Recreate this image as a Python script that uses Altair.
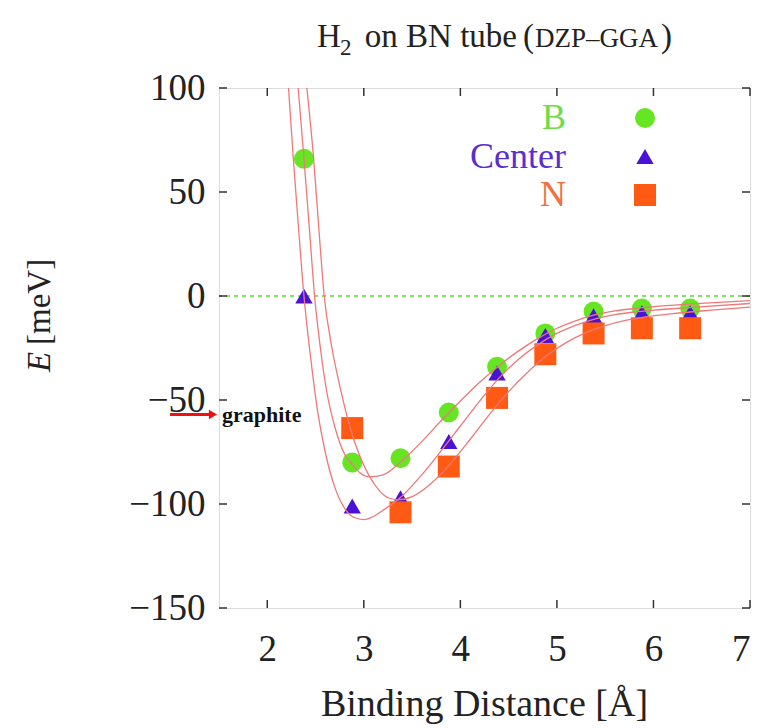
import altair as alt
import pandas as pd

# ---------------- data ----------------
dist = [2.38, 2.88, 3.38, 3.88, 4.38, 4.88, 5.38, 5.88, 6.38]
E_B = [66, -80, -78, -56, -34, -18, -7.5, -6, -6]
E_C = [0, -101, -97, -70, -37, -19, -9.5, -8, -8]
dist_N = [2.88, 3.38, 3.88, 4.38, 4.88, 5.38, 5.88, 6.38]
E_N = [-63.5, -104, -82, -49, -28, -18, -15.5, -15.5]

# fitted curves, points
fitC_x = [2.22, 2.27, 2.32, 2.38, 2.45, 2.52, 2.60, 2.70, 2.80, 2.90, 3.00, 3.10, 3.20, 3.40, 3.60, 3.80, 4.00, 4.20, 4.40, 4.60, 4.80, 5.00, 5.20, 5.40, 5.60, 5.80, 6.00, 6.40, 7.00]
fitC_E = [100, 66, 35, 0, -30, -55, -75, -92, -102, -106.5, -107.5, -106, -103, -96, -86, -74.5, -62.5, -50.5, -39.5, -30.5, -23.5, -18, -14, -11, -9, -7.7, -6.8, -5.5, -3.6]
fitB_x = [2.32, 2.38, 2.44, 2.49, 2.55, 2.62, 2.70, 2.80, 2.88, 2.96, 3.06, 3.20, 3.40, 3.60, 3.80, 4.00, 4.20, 4.40, 4.60, 4.80, 5.00, 5.20, 5.40, 5.60, 5.80, 6.00, 6.40, 7.00]
fitB_E = [100, 66, 30, 0, -25, -47, -63, -76, -81, -85, -87, -86, -79, -70, -60, -50.5, -41.5, -33.5, -26.5, -20.5, -15.5, -11.8, -9, -7.2, -6, -5.1, -3.8, -2.2]
fitN_x = [2.41, 2.48, 2.53, 2.59, 2.67, 2.76, 2.85, 2.95, 3.05, 3.15, 3.25, 3.36, 3.50, 3.70, 3.90, 4.10, 4.30, 4.50, 4.70, 4.90, 5.10, 5.30, 5.50, 5.70, 5.90, 6.20, 6.60, 7.00]
fitN_E = [100, 66, 35, 0, -25, -45, -62, -76, -86, -93, -97, -98, -96.5, -90, -80.5, -69, -57, -46, -36.5, -28.5, -22.3, -17.6, -14.2, -11.8, -10.2, -8.5, -6.8, -5.3]

series_names = ["B", "Center", "N"]
series_colors = ["#66e622", "#4a12d8", "#ff5a14"]
label_colors = ["#6fdc4a", "#5a2fd0", "#f07040"]
series_shapes = ["circle", "triangle-up", "square"]
series_sizes = [400, 300, 484]

x_ticks = [2, 3, 4, 5, 6, 7]
y_ticks = [-150, -100, -50, 0, 50, 100]
zero_line = [0]
graphite_E = [-57]

W, H = 531, 520
SERIF = "Liberation Serif, Times New Roman, serif"

xs = alt.Scale(domain=[1.5, 7], nice=False, zero=False)
ys = alt.Scale(domain=[-150, 100], nice=False, zero=False)

# ---------------- tables ----------------
pts = pd.DataFrame({
    "d": dist + dist + dist_N,
    "E": E_B + E_C + E_N,
    "s": ["B"] * len(dist) + ["Center"] * len(dist) + ["N"] * len(dist_N),
})
fits = pd.DataFrame({
    "d": fitB_x + fitC_x + fitN_x,
    "E": fitB_E + fitC_E + fitN_E,
    "s": ["B"] * len(fitB_x) + ["Center"] * len(fitC_x) + ["N"] * len(fitN_x),
})

xax = alt.Axis(values=x_ticks, labelFont=SERIF, labelFontSize=37, labelColor="#222",
               domain=False, ticks=False, tickSize=0, grid=False, labelPadding=23, title=None)
yax = alt.Axis(values=y_ticks, labelFont=SERIF, labelFontSize=37, labelColor="#222",
               domain=False, ticks=False, tickSize=0, grid=False, labelPadding=14, title=None)

layers = []

# zero line
layers.append(alt.Chart(pd.DataFrame({"z": zero_line})).mark_rule(
    color="#55dd33", strokeWidth=1.3, strokeDash=[4, 4]).encode(
    y=alt.Y("z:Q", scale=ys, axis=yax)))

# points, one layer per series so later series sit on top
for name, col, shp, sz in zip(series_names, series_colors, series_shapes, series_sizes):
    layers.append(alt.Chart(pts[pts.s == name]).mark_point(
        filled=True, opacity=1, shape=shp, size=sz, color=col).encode(
        x=alt.X("d:Q", scale=xs, axis=xax),
        y=alt.Y("E:Q", scale=ys, axis=yax)))

# fitted curves
layers.append(alt.Chart(fits).mark_line(
    color="#f07878", strokeWidth=1.3, interpolate="monotone", clip=True).encode(
    x=alt.X("d:Q", scale=xs, axis=xax),
    y=alt.Y("E:Q", scale=ys, axis=yax),
    detail="s:N"))

# inward ticks (gnuplot style) on all four sides
xt = pd.DataFrame({"v": x_ticks})
yt = pd.DataFrame({"v": y_ticks})
for y0, y1 in [(H, H - 8), (0, 8)]:
    layers.append(alt.Chart(xt).mark_rule(color="#333", strokeWidth=1.5).encode(
        x=alt.X("v:Q", scale=xs, axis=xax), y=alt.value(y0), y2=alt.value(y1)))
for x0, x1 in [(0, 8), (W, W - 8)]:
    layers.append(alt.Chart(yt).mark_rule(color="#333", strokeWidth=1.5).encode(
        y=alt.Y("v:Q", scale=ys, axis=yax), x=alt.value(x0), x2=alt.value(x1)))

# in-plot legend
for i, (name, col, lcol, shp, sz) in enumerate(zip(series_names, series_colors, label_colors, series_shapes, series_sizes)):
    yy = 30 + i * 38.5
    one = pd.DataFrame({"a": [0]})
    layers.append(alt.Chart(one).mark_text(
        text=name, font=SERIF, fontSize=36, color=lcol, align="right", baseline="middle").encode(
        x=alt.value(347), y=alt.value(yy)))
    layers.append(alt.Chart(one).mark_point(
        filled=True, opacity=1, shape=shp, size=sz, color=col).encode(
        x=alt.value(426), y=alt.value(yy)))

# graphite arrow and label
gdf = pd.DataFrame({"E": graphite_E})
layers.append(alt.Chart(gdf).mark_rule(color="#ee1111", strokeWidth=3).encode(
    y=alt.Y("E:Q", scale=ys, axis=yax), x=alt.value(-49), x2=alt.value(-10)))
layers.append(alt.Chart(gdf).mark_point(
    filled=True, opacity=1, shape="triangle-right", size=90, color="#ee1111").encode(
    y=alt.Y("E:Q", scale=ys, axis=yax), x=alt.value(-6)))
layers.append(alt.Chart(gdf).mark_text(
    text="graphite", font=SERIF, fontSize=22, fontWeight="bold", color="#111",
    align="left", baseline="middle").encode(
    y=alt.Y("E:Q", scale=ys, axis=yax), x=alt.value(3)))

# titles as text
def txt(s, x, y, size, **kw):
    return alt.Chart(pd.DataFrame({"a": [0]})).mark_text(
        text=s, font=SERIF, fontSize=size, color="#222", **kw).encode(
        x=alt.value(x), y=alt.value(y))

layers += [
    txt("H", 98, -41, 33, align="left", baseline="alphabetic"),
    txt("2", 121, -33, 23, align="left", baseline="alphabetic"),
    txt("on BN tube", 298, -41, 33, align="right", baseline="alphabetic"),
    txt("(", 304, -41, 33, align="left", baseline="alphabetic"),
    txt("DZP\u2013GGA", 316, -41, 27, align="left", baseline="alphabetic"),
    txt(")", 453, -41, 33, align="right", baseline="alphabetic"),
    txt("Binding Distance [\u00c5]", W / 2, 628, 38, align="center", baseline="alphabetic"),
    txt("E", -179, 284, 33, align="left", baseline="middle", angle=270, fontStyle="italic"),
    txt("[meV]", -179, 257, 33, align="left", baseline="middle", angle=270),
]

chart = alt.layer(*layers).properties(
    width=W, height=H,
    autosize=alt.AutoSizeParams(type="none"),
    padding={"left": 219, "top": 88, "right": 21, "bottom": 120},
).configure_view(stroke="#222", strokeWidth=1.5).configure(background="white")

chart.save("out.html", embed_options={"renderer": "svg", "actions": False})
